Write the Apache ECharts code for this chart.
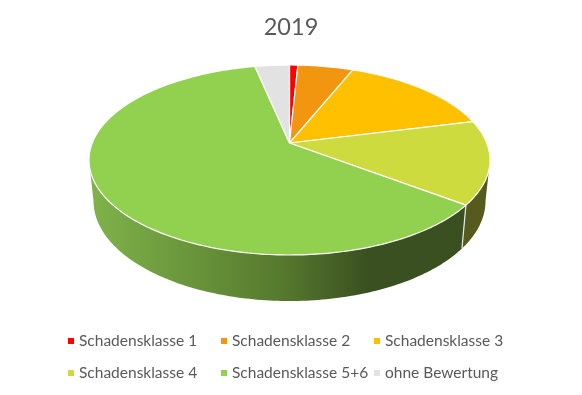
<!DOCTYPE html>
<html><head><meta charset="utf-8">
<style>html,body{margin:0;padding:0;background:#fff}#c{width:582px;height:395px}</style>
<script src="https://cdn.jsdelivr.net/npm/echarts@6/dist/echarts.min.js"></script>
</head><body><div id="c"></div>
<script>
const categories = ['Schadensklasse 1','Schadensklasse 2','Schadensklasse 3','Schadensklasse 4','Schadensklasse 5+6','ohne Bewertung'];
const values = [0.8,5.3,15.0,14.2,61.4,3.3];
const colors = ['#FF0000','#F2950F','#FFC000','#CEDB3F','#92D050','#E2E2E2'];
const title = '2019';

const FONT = 'Lato, Carlito, sans-serif';
const TEXT = '#595959';
// projected cylinder: top disc, bottom disc, perspective
const top_ = {cx:289.5, cy:160, rx:200.5, ry:95};
const bot = {cx:289.5, cy:201, rx:196, ry:100};
const k = -0.179;
const total = values.reduce((a,b)=>a+b,0);
const starts = []; values.reduce((s,v,i)=>(starts[i]=s,s+v),0);

// angle (clockwise from top of the true circle) -> unit point on the projected ellipse
function unit(t){
  const u=Math.sin(t), v=-Math.cos(t), d=1+k*v;
  return [u*Math.sqrt(1-k*k)/d, (v+k)/d];
}
const apex=[top_.cx, top_.cy+top_.ry*k];
const P=(e,p)=>[e.cx+e.rx*p[0], e.cy+e.ry*p[1]];
function samples(a,b){
  const n=Math.max(2,Math.ceil((b-a)/(Math.PI/180))), r=[];
  for(let i=0;i<=n;i++) r.push(a+(b-a)*i/n);
  return r;
}
const wallLo=Math.acos(k), wallHi=2*Math.PI-wallLo;
const wallGrad={type:'linear',x:93,y:0,x2:466,y2:0,global:true,colorStops:[
 {offset:0,color:'#7FB24A'},{offset:0.5,color:'#567A2E'},{offset:0.74,color:'#3A5020'},{offset:1,color:'#3A5020'}]};
const wallFill=[null,null,null,'#565A1C',wallGrad,null];

function makeRender(i){
  return function(){
    const a=starts[i]/total*2*Math.PI, b=(starts[i]+values[i])/total*2*Math.PI;
    const topPts=[apex].concat(samples(a,b).map(t=>P(top_,unit(t))));
    const children=[{type:'polygon',z2:3,shape:{points:topPts},
      style:{fill:colors[i],stroke:'#fff',lineWidth:1.2,lineJoin:'round'}}];
    const w0=Math.max(a,wallLo), w1=Math.min(b,wallHi);
    if(w1>w0 && wallFill[i]){
      const ss=samples(w0,w1);
      const pts=ss.map(t=>P(top_,unit(t))).concat(ss.slice().reverse().map(t=>P(bot,unit(t))));
      children.unshift({type:'polygon',z2:1,shape:{points:pts},style:{fill:wallFill[i],stroke:null}});
      if(b<wallHi){
        children.push({type:'line',z2:2,shape:{x1:P(top_,unit(b))[0],y1:P(top_,unit(b))[1],x2:P(bot,unit(b))[0],y2:P(bot,unit(b))[1]},
          style:{stroke:'#E8E8E8',lineWidth:1.2}});
      }
    }
    return {type:'group',children};
  };
}
const series=categories.map((name,i)=>({
  type:'custom',name,coordinateSystem:'none',silent:true,
  itemStyle:{color:colors[i]},
  data:[[values[i]]],
  renderItem:makeRender(i)
}));
const legendBase={orient:'vertical',icon:'rect',padding:0,itemWidth:6,itemHeight:6,itemGap:16,top:333,selectedMode:false,
  textStyle:{fontFamily:FONT,fontSize:15.5,color:TEXT,lineHeight:16}};
const chart=echarts.init(document.getElementById('c'),null,{renderer:'canvas'});
chart.setOption({
  animation:false,
  backgroundColor:'#fff',
  title:{text:title,left:'center',top:10,textStyle:{fontFamily:FONT,fontSize:23.5,fontWeight:'normal',color:TEXT}},
  legend:[
    Object.assign({},legendBase,{left:68,data:[categories[0],categories[3]]}),
    Object.assign({},legendBase,{left:221,data:[categories[1],categories[4]]}),
    Object.assign({},legendBase,{left:374,data:[categories[2],categories[5]]})
  ],
  series
});
</script></body></html>
